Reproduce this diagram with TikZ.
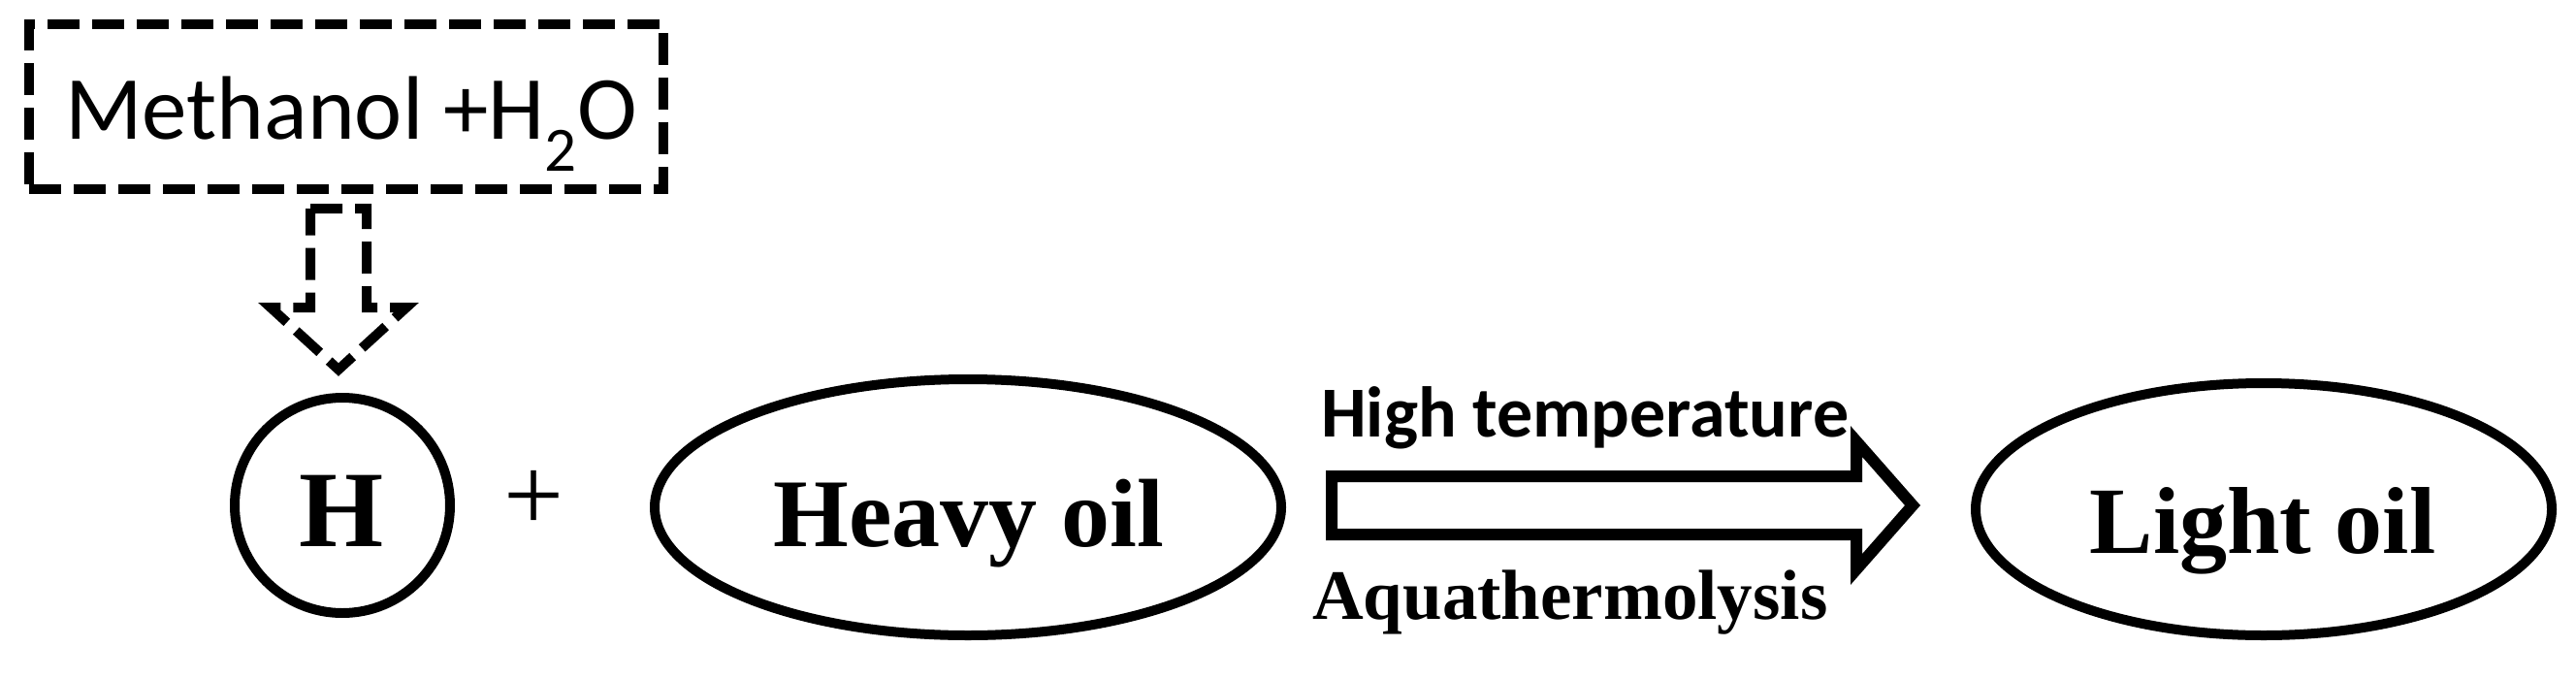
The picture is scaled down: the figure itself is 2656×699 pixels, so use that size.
\documentclass[tikz,border=0pt]{standalone}
\usepackage{fontspec}
\setmainfont{Liberation Serif}
\newfontfamily\calib{Carlito}
\usetikzlibrary{shapes.geometric}
\begin{document}
\begin{tikzpicture}[x=1pt,y=-1pt,
  solidline/.style={line width=10pt},
  dashline/.style={line width=10pt, dash pattern=on 33pt off 13pt},
  blockarrow/.style={line width=12pt, line join=miter},
  serifbig/.style={inner sep=0pt, font=\fontsize{100}{100}\selectfont\bfseries},
]
\useasboundingbox (0,0) rectangle (2656,699);
% source box
\node[draw, dashline, minimum width=654pt, minimum height=170pt, inner sep=0pt] (src) at (357,110) {};
\node[inner sep=0pt, anchor=base, font=\fontsize{93}{100}\selectfont\calib] (srctxt) at (362,143)
  {Methanol +H\textsubscript{2}O};
% dashed block arrow
\draw[dashline] (320,215) -- (378,215) -- (378,317) -- (419,317) -- (349,381) -- (279,317) -- (320,317) -- cycle;
% H circle
\node[draw, solidline, circle, minimum size=222pt, inner sep=0pt] (H) at (353,521) {};
\node[serifbig, anchor=base, font=\fontsize{112}{112}\selectfont\bfseries] (Htxt) at (352,563) {H};
% plus
\node[inner sep=0pt, font=\fontsize{110}{110}\selectfont] (plus) at (551,516) {+};
% heavy oil
\node[draw, solidline, ellipse, minimum width=646pt, minimum height=264pt, inner sep=0pt] (heavy) at (998,523) {};
\node[serifbig, anchor=base] (heavytxt) at (999,563) {Heavy oil};
% big arrow
\draw[blockarrow] (1373,491) -- (1914,491) -- (1914,455) -- (1972,521) -- (1914,587) -- (1914,551) -- (1373,551) -- cycle;
\node[inner sep=0pt, anchor=base west, font=\fontsize{74}{74}\selectfont\calib\bfseries] (hi) at (1362,450) {High temperature};
\node[inner sep=0pt, anchor=base west, font=\fontsize{73}{73}\selectfont\bfseries] (aq) at (1353,638) {Aquathermolysis};
% light oil
\node[draw, solidline, ellipse, minimum width=594pt, minimum height=260pt, inner sep=0pt] (light) at (2334,525) {};
\node[serifbig, anchor=base, font=\fontsize{98}{98}\selectfont\bfseries] (lighttxt) at (2333,570) {Light oil};
\end{tikzpicture}
\end{document}
